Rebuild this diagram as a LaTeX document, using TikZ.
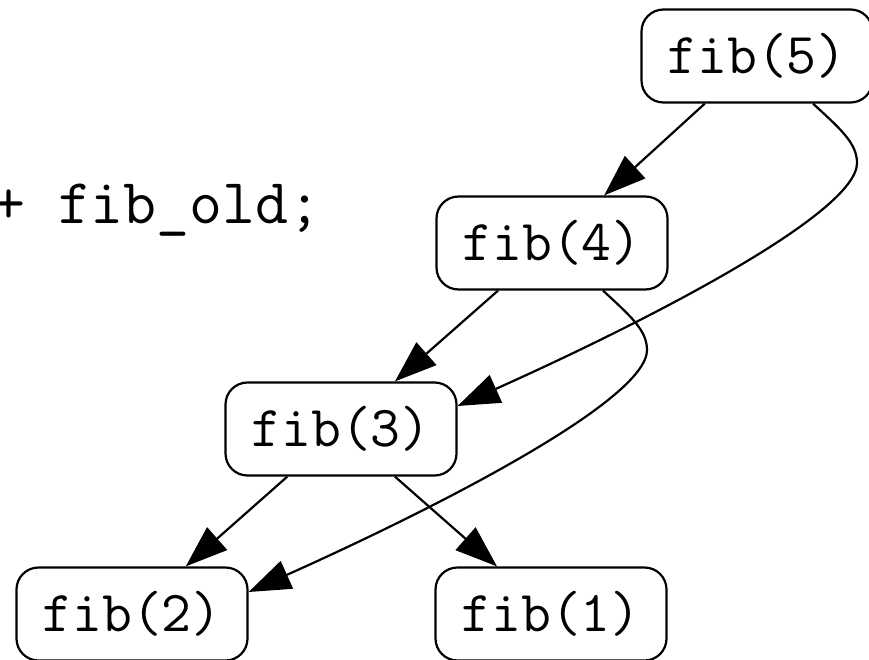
\documentclass[tikz,border=0pt]{standalone}
\usepackage{tikz}
\usetikzlibrary{arrows.meta}

\begin{document}
\begin{tikzpicture}[x=1pt,y=-1pt,line width=2.2pt,
    box/.style={draw,rounded corners=22pt,minimum width=231pt,minimum height=93pt,
      inner sep=0pt,font=\fontsize{58}{60}\selectfont\ttfamily},
    edge/.style={-{Triangle[length=42pt,width=30pt]}}]
  \useasboundingbox (0,0) rectangle (869,660);
  \path (-9,223) node[anchor=base west,inner sep=0pt,
    font=\fontsize{64}{70}\selectfont\ttfamily] (code) {+ fib\_old;};
  \path (757,56) node[box] (f5) {\raisebox{-4pt}{fib(5)}};
  \path (552,243) node[box] (f4) {\raisebox{-4pt}{fib(4)}};
  \path (341,429) node[box] (f3) {\raisebox{-4pt}{fib(3)}};
  \path (132,614) node[box] (f2) {\raisebox{-4pt}{fib(2)}};
  \path (551,614) node[box] (f1) {\raisebox{-4pt}{fib(1)}};
  % straight calls
  \draw[edge] (f5) -- (f4);
  \draw[edge] (f4) -- (f3);
  \draw[edge] (f3) -- (f2);
  \draw[edge] (f3) -- (f1);
  % long calls
  \draw[edge] ([xshift=56pt]f5.south) .. controls +(27,25) and +(0,-20) .. (857,163)
    .. controls +(0,50) and +(192,-86) .. ([yshift=23pt]f3.east);
  \draw[edge] ([xshift=51pt]f4.south) .. controls +(27,25) and +(0,-20) .. (647,350)
    .. controls +(0,50) and +(192,-86) .. ([yshift=22pt]f2.east);
\end{tikzpicture}
\end{document}
